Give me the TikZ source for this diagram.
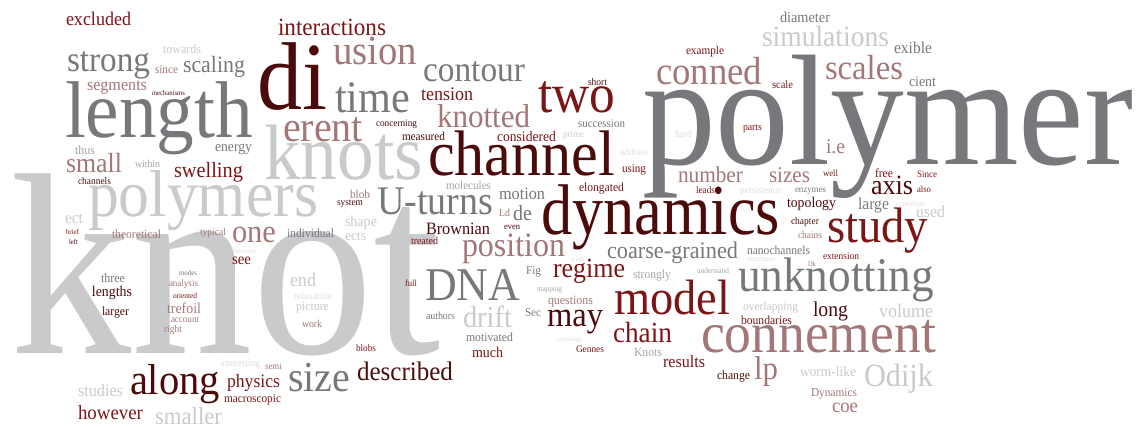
\documentclass[tikz,border=0pt]{standalone}
\usepackage{fontspec}
\setmainfont{Liberation Serif}
\usepackage{graphicx}
\definecolor{lg}{HTML}{C9CACC}
\definecolor{gy}{HTML}{77787C}
\definecolor{mg}{HTML}{A3A4A8}
\definecolor{vl}{HTML}{DDDDDF}
\definecolor{dk}{HTML}{4C0B0B}
\definecolor{rd}{HTML}{7B1517}
\definecolor{mv}{HTML}{A37777}
\tikzset{wrd/.style={anchor=base west,inner sep=0pt,outer sep=0pt}}
\newcommand\wcw[6]{\node[wrd,text=#5] (#1) at (#2,#3) {\scalebox{1}[1.07]{\resizebox{#4pt}{!}{#6}}};}
\begin{document}
\begin{tikzpicture}[x=1pt,y=-1pt]
\useasboundingbox (0,0) rectangle (1136,427);
\wcw{knot}{10}{354}{430}{lg}{knot}
\wcw{polymer}{642}{165}{491}{gy}{polymer}
\wcw{length}{65}{138}{188}{gy}{length}
\wcw{di}{257}{110}{70}{dk}{di}
\wcw{knots}{264}{180}{159}{lg}{knots}
\wcw{polymers}{88}{217}{230}{lg}{polymers}
\wcw{channel}{428}{176}{187}{dk}{channel}
\node[wrd,text=dk] (dynamics) at (541,235) {\scalebox{1}[1.15]{\resizebox{239pt}{!}{dynamics}}};
\wcw{connement}{701}{353}{235}{mv}{connement}
\wcw{unknotting}{738}{292}{196}{gy}{unknotting}
\wcw{study}{827}{243}{101}{rd}{study}
\wcw{model}{614}{315}{116}{rd}{model}
\wcw{DNA}{425}{301}{95}{gy}{DNA}
\wcw{position}{462}{257}{103}{mv}{position}
\wcw{two}{538}{113}{77}{rd}{two}
\wcw{time}{335}{113}{75}{gy}{time}
\wcw{usion}{333}{65}{84}{mv}{usion}
\wcw{erent}{283}{142}{80}{mv}{erent}
\wcw{contour}{423}{82}{102}{gy}{contour}
\wcw{knotted}{437}{128}{93}{mv}{knotted}
\wcw{interactions}{278}{36}{108}{rd}{interactions}
\wcw{excluded}{66}{26}{65}{rd}{excluded}
\wcw{strong}{67}{72}{83}{gy}{strong}
\wcw{towards}{163}{54}{38}{lg}{towards}
\wcw{since}{155}{74}{23}{mv}{since}
\wcw{scaling}{183}{73}{62}{gy}{scaling}
\wcw{segments}{87}{91}{60}{mv}{segments}
\wcw{mechanisms}{152}{96}{33}{dk}{mechanisms}
\wcw{thus}{75}{155}{20}{mg}{thus}
\wcw{energy}{215}{152}{37}{gy}{energy}
\wcw{small}{66}{173}{56}{mv}{small}
\wcw{within}{135}{168}{25}{mg}{within}
\wcw{swelling}{174}{178}{69}{rd}{swelling}
\wcw{channels}{78}{185}{33}{dk}{channels}
\wcw{concerning}{376}{127}{41}{dk}{concerning}
\wcw{tension}{421}{101}{52}{rd}{tension}
\wcw{measured}{402}{141}{43}{dk}{measured}
\wcw{considered}{497}{142}{59}{rd}{considered}
\wcw{prime}{563}{138}{21}{lg}{prime}
\wcw{molecules}{446}{190}{45}{mg}{molecules}
\wcw{motion}{499}{200}{46}{gy}{motion}
\wcw{blob}{350}{199}{20}{mv}{blob}
\wcw{system}{337}{206}{26}{dk}{system}
\wcw{Uturns}{377}{215}{116}{gy}{U-turns}
\wcw{Ld}{499}{217}{11}{mv}{Ld}
\wcw{de}{513}{221}{19}{gy}{de}
\wcw{even}{504}{230}{16}{dk}{even}
\wcw{Brownian}{426}{235}{64}{dk}{Brownian}
\wcw{shape}{345}{227}{32}{lg}{shape}
\wcw{ects}{345}{241}{21}{lg}{ects}
\wcw{individual}{287}{238}{47}{gy}{individual}
\wcw{treated}{411}{245}{27}{rd}{treated}
\wcw{Fig}{526}{275}{15}{gy}{Fig}
\wcw{regime}{553}{278}{72}{rd}{regime}
\wcw{coarse}{607}{259}{131}{gy}{coarse-grained}
\wcw{weak}{571}{262}{14}{vl}{weak}
\wcw{nanochannels}{747}{255}{63}{gy}{nanochannels}
\wcw{structures}{747}{262}{28}{vl}{structures}
\wcw{understand}{697}{274}{32}{mg}{understand}
\wcw{strongly}{633}{279}{38}{mg}{strongly}
\wcw{mapping}{537}{292}{25}{mg}{mapping}
\wcw{full}{405}{287}{12}{rd}{full}
\wcw{end}{290}{287}{26}{lg}{end}
\wcw{relaxation}{294}{300}{38}{vl}{relaxation}
\wcw{picture}{296}{311}{33}{lg}{picture}
\wcw{work}{302}{328}{20}{mv}{work}
\wcw{authors}{426}{320}{29}{gy}{authors}
\wcw{drift}{463}{328}{49}{lg}{drift}
\wcw{Sec}{525}{317}{16}{gy}{Sec}
\wcw{questions}{548}{305}{45}{mv}{questions}
\wcw{may}{547}{327}{56}{dk}{may}
\wcw{crossings}{557}{342}{25}{vl}{crossings}
\wcw{Gennes}{576}{353}{28}{rd}{Gennes}
\wcw{chain}{613}{343}{59}{rd}{chain}
\wcw{Knots}{634}{357}{28}{mg}{Knots}
\wcw{results}{663}{368}{42}{rd}{results}
\wcw{overlapping}{743}{311}{55}{lg}{overlapping}
\wcw{boundaries}{741}{325}{51}{rd}{boundaries}
\wcw{long}{813}{317}{35}{dk}{long}
\wcw{volume}{879}{318}{54}{lg}{volume}
\wcw{change}{717}{380}{33}{dk}{change}
\wcw{lp}{754}{380}{24}{mv}{lp}
\wcw{wormlike}{800}{377}{56}{lg}{worm-like}
\wcw{Dynamics}{811}{397}{46}{mv}{Dynamics}
\wcw{coe}{832}{413}{26}{mv}{coe}
\wcw{Odijk}{864}{387}{69}{lg}{Odijk}
\wcw{diameter}{780}{23}{50}{gy}{diameter}
\wcw{simulations}{762}{47}{127}{lg}{simulations}
\wcw{exible}{894}{54}{38}{gy}{exible}
\wcw{example}{686}{55}{38}{rd}{example}
\wcw{conned}{656}{85}{106}{mv}{conned}
\wcw{scales}{825}{80}{78}{mv}{scales}
\wcw{cient}{909}{87}{27}{gy}{cient}
\wcw{short}{588}{86}{19}{dk}{short}
\wcw{scale}{772}{89}{21}{rd}{scale}
\wcw{succession}{578}{128}{47}{gy}{succession}
\wcw{hard}{675}{138}{17}{vl}{hard}
\wcw{parts}{743}{131}{19}{rd}{parts}
\wcw{address}{620}{156}{28}{vl}{address}
\wcw{ie}{826}{154}{19}{mv}{i.e}
\wcw{using}{622}{173}{24}{rd}{using}
\wcw{number}{678}{183}{65}{mv}{number}
\wcw{sizes}{769}{183}{41}{mv}{sizes}
\wcw{well}{823}{177}{15}{rd}{well}
\wcw{elongated}{579}{192}{45}{rd}{elongated}
\wcw{leads}{696}{194}{19}{rd}{leads}
\wcw{persistence}{740}{194}{41}{vl}{persistence}
\wcw{enzymes}{795}{193}{31}{gy}{enzymes}
\wcw{topology}{787}{208}{49}{dk}{topology}
\wcw{free}{875}{178}{18}{rd}{free}
\wcw{Since}{917}{178}{20}{rd}{Since}
\wcw{axis}{871}{195}{42}{dk}{axis}
\wcw{also}{917}{193}{14}{rd}{also}
\wcw{large}{858}{210}{31}{gy}{large}
\wcw{contribute}{896}{207}{29}{vl}{contribute}
\wcw{used}{916}{218}{29}{lg}{used}
\wcw{chapter}{791}{225}{28}{dk}{chapter}
\wcw{chains}{798}{239}{24}{mv}{chains}
\wcw{extension}{823}{260}{36}{rd}{extension}
\wcw{Dk}{808}{267}{8}{mv}{Dk}
\wcw{ect}{65}{224}{18}{lg}{ect}
\wcw{brief}{66}{235}{13}{rd}{brief}
\wcw{left}{69}{245}{9}{dk}{left}
\wcw{theoretical}{112}{239}{49}{mv}{theoretical}
\wcw{typical}{200}{236}{26}{mv}{typical}
\wcw{one}{232}{243}{44}{mv}{one}
\wcw{becomes}{234}{254}{23}{vl}{becomes}
\wcw{see}{232}{265}{19}{rd}{see}
\wcw{three}{101}{283}{24}{gy}{three}
\wcw{lengths}{92}{297}{40}{dk}{lengths}
\wcw{larger}{102}{316}{27}{dk}{larger}
\wcw{modes}{179}{276}{18}{gy}{modes}
\wcw{analysis}{169}{287}{29}{mv}{analysis}
\wcw{oriented}{173}{299}{24}{rd}{oriented}
\wcw{trefoil}{167}{314}{34}{mv}{trefoil}
\wcw{account}{171}{323}{28}{mv}{account}
\wcw{right}{164}{333}{18}{mv}{right}
\wcw{interesting}{220}{367}{40}{vl}{interesting}
\wcw{semi}{265}{370}{17}{mv}{semi}
\wcw{along}{130}{395}{90}{dk}{along}
\wcw{physics}{227}{388}{53}{rd}{physics}
\wcw{macroscopic}{224}{403}{57}{rd}{macroscopic}
\wcw{studies}{78}{397}{45}{lg}{studies}
\wcw{however}{78}{420}{65}{rd}{however}
\wcw{smaller}{155}{425}{67}{lg}{smaller}
\wcw{size}{288}{392}{62}{gy}{size}
\wcw{described}{357}{381}{96}{dk}{described}
\wcw{blobs}{356}{352}{20}{rd}{blobs}
\wcw{motivated}{466}{342}{47}{gy}{motivated}
\wcw{much}{472}{358}{31}{rd}{much}
\end{tikzpicture}
\end{document}
